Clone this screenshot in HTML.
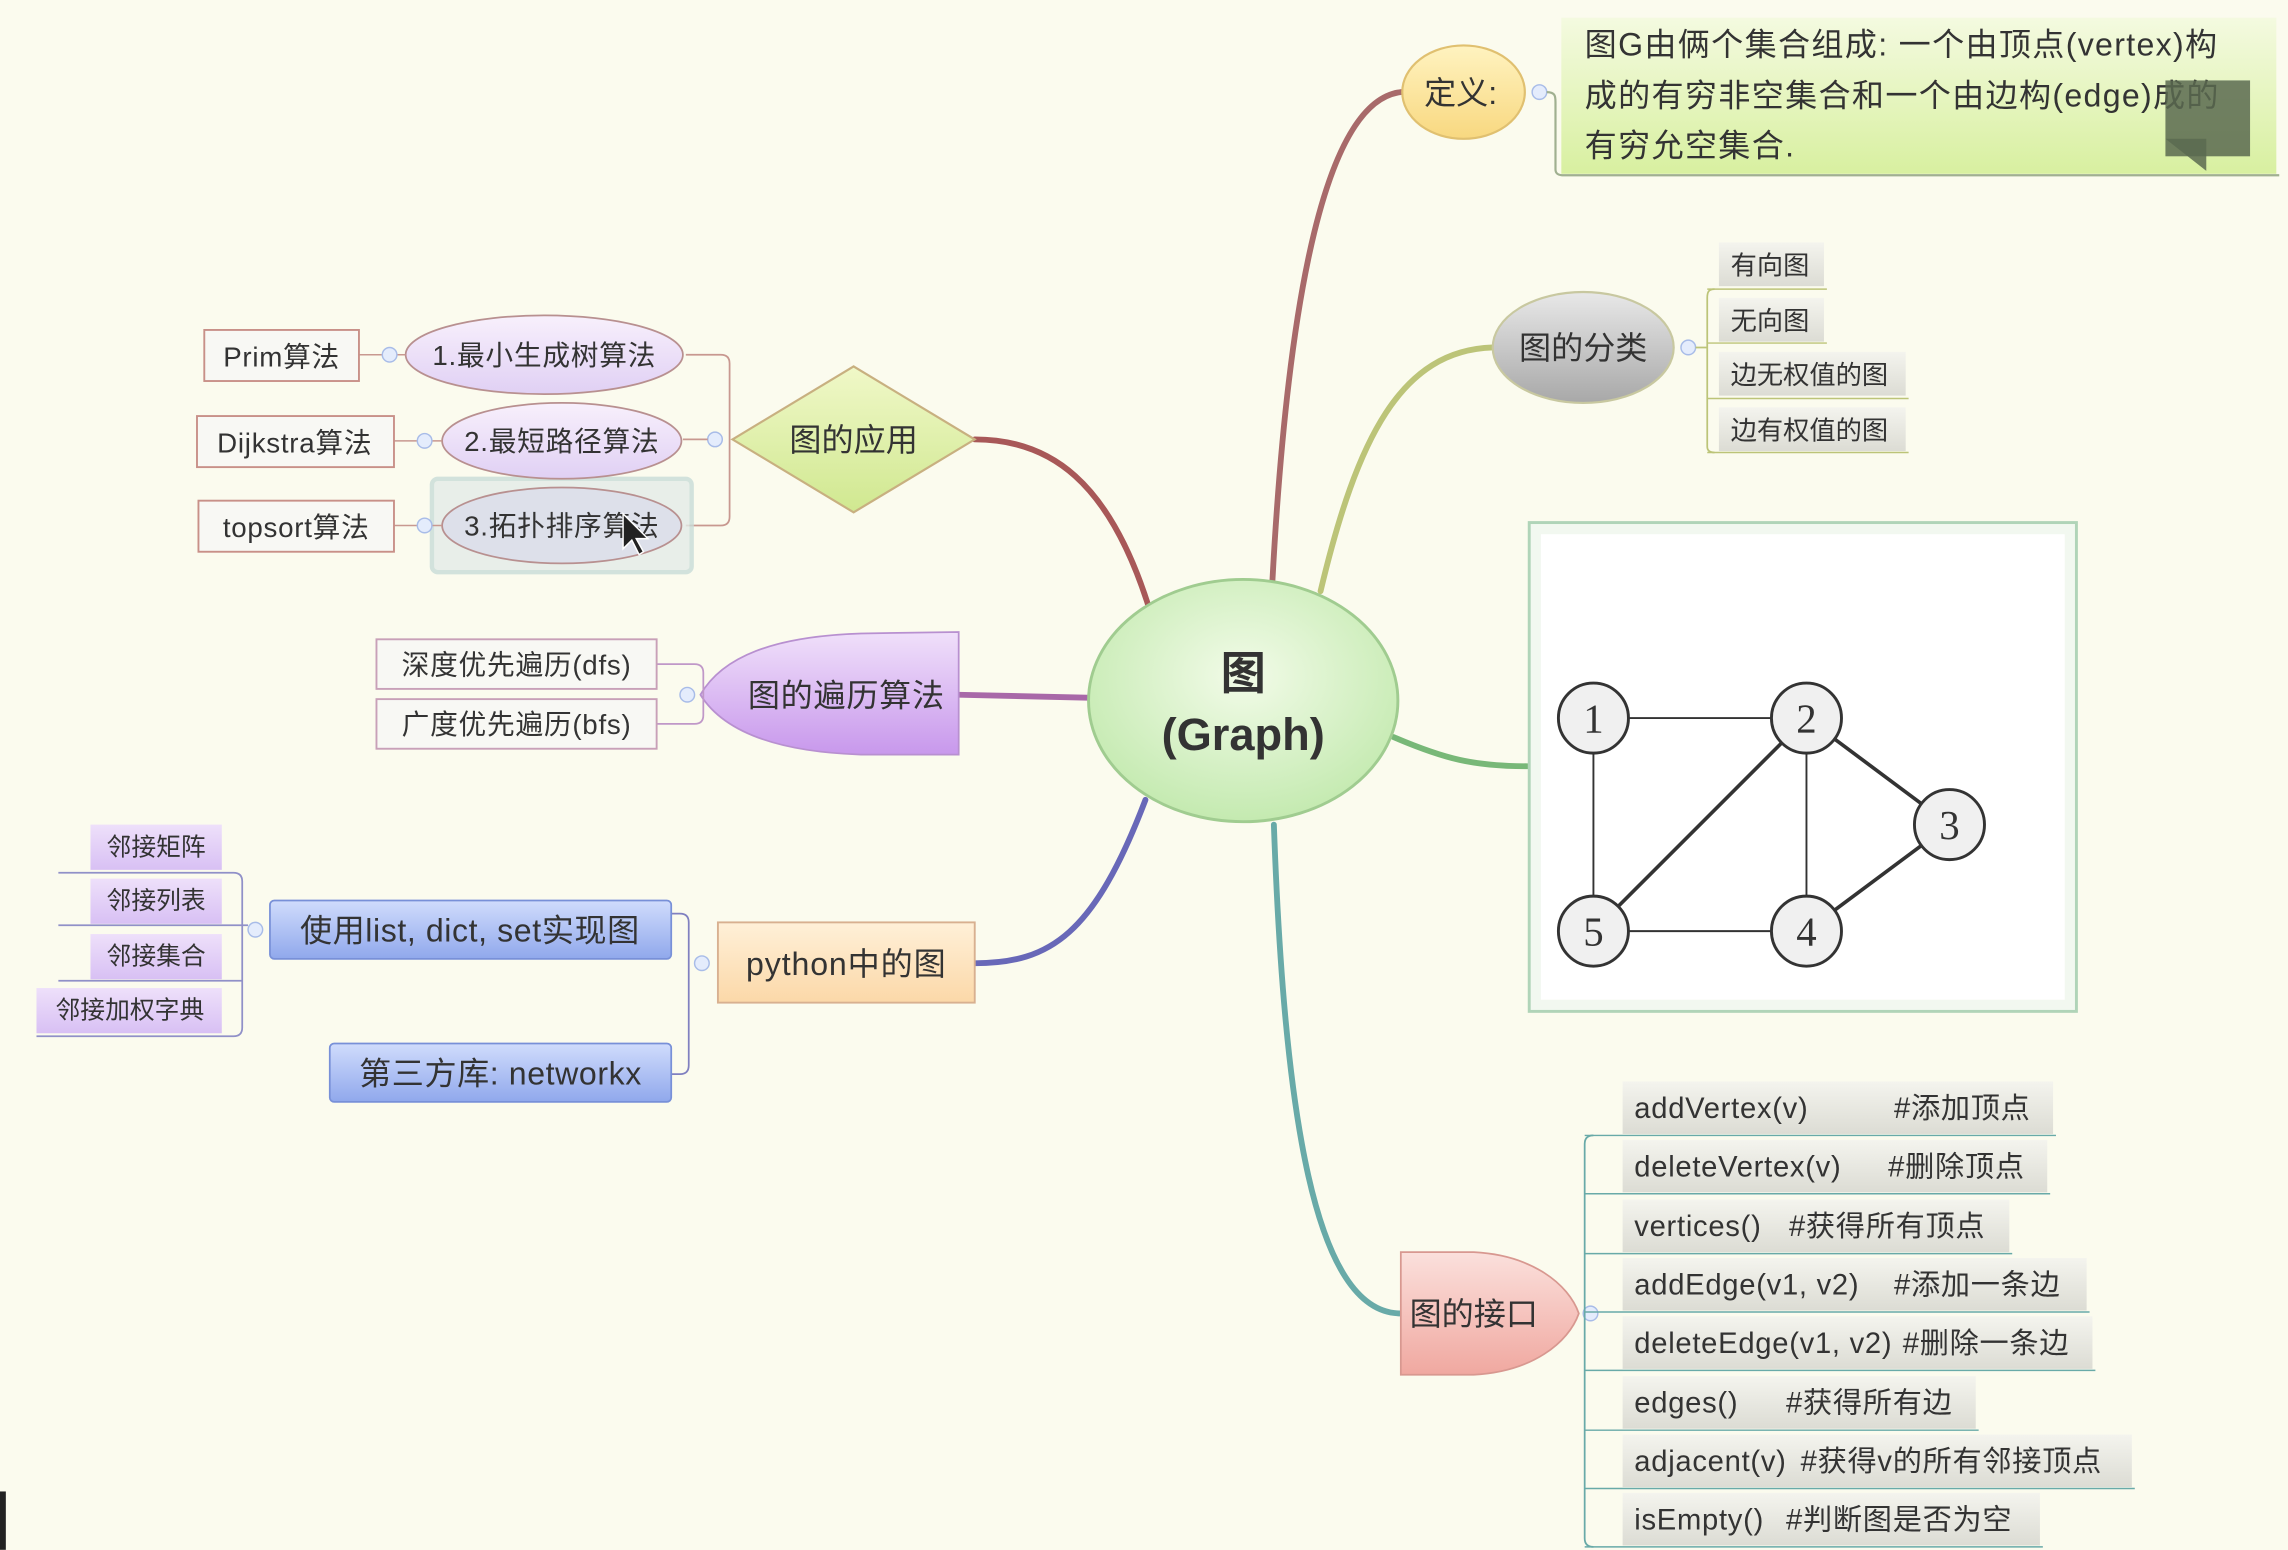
<!DOCTYPE html>
<html><head><meta charset="utf-8"><style>
html,body{margin:0;padding:0;background:#fbfbee;}
svg{display:block}
text{font-family:"Liberation Sans","Noto Sans CJK SC",sans-serif;fill:#333;}
</style></head><body>
<svg width="2288" height="1550" viewBox="0 0 1568 1062" xmlns="http://www.w3.org/2000/svg">
<defs>
<radialGradient id="gc" cx="50%" cy="40%" r="60%"><stop offset="0" stop-color="#f2fbe8"/><stop offset="1" stop-color="#c4eab0"/></radialGradient>
<linearGradient id="gy" x1="0" y1="0" x2="0" y2="1"><stop offset="0" stop-color="#fff3c0"/><stop offset="1" stop-color="#f8d880"/></linearGradient>
<linearGradient id="gdef" x1="0" y1="0" x2="0" y2="1"><stop offset="0" stop-color="#f4fae0"/><stop offset="1" stop-color="#d8f0a0"/></linearGradient>
<linearGradient id="ggray" x1="0" y1="0" x2="0" y2="1"><stop offset="0" stop-color="#e8e8e8"/><stop offset="1" stop-color="#a8a8a8"/></linearGradient>
<linearGradient id="gbox" x1="0" y1="0" x2="0" y2="1"><stop offset="0" stop-color="#f4f4ee"/><stop offset="1" stop-color="#dcdcd4"/></linearGradient>
<linearGradient id="gpink" x1="0" y1="0" x2="0" y2="1"><stop offset="0" stop-color="#fbe0dc"/><stop offset="1" stop-color="#f0a8a0"/></linearGradient>
<linearGradient id="gpur" x1="0" y1="0" x2="0" y2="1"><stop offset="0" stop-color="#f0e0fa"/><stop offset="1" stop-color="#c898ec"/></linearGradient>
<linearGradient id="glav" x1="0" y1="0" x2="0" y2="1"><stop offset="0" stop-color="#f8f0fc"/><stop offset="1" stop-color="#e0d0f4"/></linearGradient>
<linearGradient id="gblue" x1="0" y1="0" x2="0" y2="1"><stop offset="0" stop-color="#d0dcfc"/><stop offset="1" stop-color="#90a8ec"/></linearGradient>
<linearGradient id="gor" x1="0" y1="0" x2="0" y2="1"><stop offset="0" stop-color="#fff0d8"/><stop offset="1" stop-color="#fbd8a8"/></linearGradient>
<linearGradient id="gdia" x1="0" y1="0" x2="0" y2="1"><stop offset="0" stop-color="#f0f8c8"/><stop offset="1" stop-color="#d0e890"/></linearGradient>
<linearGradient id="gpb" x1="0" y1="0" x2="0" y2="1"><stop offset="0" stop-color="#eee0fa"/><stop offset="1" stop-color="#d8c0f4"/></linearGradient>
</defs>
<rect width="1568" height="1062" fill="#fbfbee"/>

<g fill="none" stroke-linecap="round">
<path d="M872,398 C880,250 900,70 960,63" stroke="#a86a6a" stroke-width="4"/>
<path d="M905,405 C930,300 960,240 1023,238" stroke="#bcc478" stroke-width="4"/>
<path d="M955,505 C990,520 1010,525 1047,525" stroke="#78b878" stroke-width="4"/>
<path d="M873,565 C880,760 900,900 960,900" stroke="#68aaa8" stroke-width="4"/>
<path d="M785,548 C750,640 720,660 668,660" stroke="#6868b8" stroke-width="4"/>
<path d="M745,478 L657,476" stroke="#a868a8" stroke-width="4"/>
<path d="M787,415 C760,330 720,301 668,301" stroke="#a85858" stroke-width="4"/>
</g>

<ellipse cx="852" cy="480" rx="106" ry="83" fill="url(#gc)" stroke="#a0cc90" stroke-width="2"/>
<text x="852" y="472" text-anchor="middle" font-size="31" font-weight="bold">图</text>
<text x="852" y="514" text-anchor="middle" font-size="31" font-weight="bold">(Graph)</text>

<ellipse cx="1003" cy="63" rx="42" ry="32" fill="url(#gy)" stroke="#e0c070" stroke-width="1.5"/>
<text x="1001" y="71" text-anchor="middle" font-size="22">定义:</text>
<circle cx="1055" cy="63" r="5" fill="#e4ecfc" stroke="#a8bce8"/>
<rect x="1070" y="12" width="490" height="107" fill="url(#gdef)"/>
<path d="M1060,63 C1066,63 1066,66 1066,70 L1066,116 C1066,119 1068,120 1072,120 L1562,120" fill="none" stroke="#a0b090" stroke-width="1.5"/>
<text font-size="22" fill="#222" letter-spacing="0.9"><tspan x="1086" y="38">图G由俩个集合组成: 一个由顶点(vertex)构</tspan><tspan x="1086" y="73">成的有穷非空集合和一个由边构(edge)成的</tspan><tspan x="1086" y="107">有穷允空集合.</tspan></text>
<rect x="1484" y="55" width="58" height="52" fill="#5a6a50" opacity="0.85"/>
<path d="M1484,95 L1512,95 L1512,117 Z" fill="#5a6a50" opacity="0.85"/>

<ellipse cx="1085" cy="238" rx="62" ry="38" fill="url(#ggray)" stroke="#c8c8a0" stroke-width="1.5"/>
<text x="1085" y="246" text-anchor="middle" font-size="22">图的分类</text>
<circle cx="1157" cy="238" r="5" fill="#e4ecfc" stroke="#a8bce8"/>
<path d="M1162,238 L1170,238 M1175,198 C1171,198 1170,200 1170,204 L1170,306 C1170,309 1172,310 1175,310" fill="none" stroke="#bcc478" stroke-width="1.2"/>
<g font-size="18">
<rect x="1178" y="166" width="72" height="30" fill="url(#gbox)"/><line x1="1170" y1="198" x2="1252" y2="198" stroke="#bcc478"/><text x="1186" y="188">有向图</text>
<rect x="1178" y="204" width="72" height="30" fill="url(#gbox)"/><line x1="1170" y1="235" x2="1252" y2="235" stroke="#bcc478"/><text x="1186" y="226">无向图</text>
<rect x="1178" y="241" width="128" height="30" fill="url(#gbox)"/><line x1="1170" y1="273" x2="1308" y2="273" stroke="#bcc478"/><text x="1186" y="263">边无权值的图</text>
<rect x="1178" y="279" width="128" height="30" fill="url(#gbox)"/><line x1="1170" y1="310" x2="1308" y2="310" stroke="#bcc478"/><text x="1186" y="301">边有权值的图</text>
</g>

<rect x="1048" y="358" width="375" height="335" fill="#f2f8f0" stroke="#b0d4b8" stroke-width="2"/>
<rect x="1056" y="366" width="359" height="319" fill="#fff"/>
<g stroke="#333" fill="none">
<line x1="1092" y1="492" x2="1238" y2="492" stroke-width="1.3"/>
<line x1="1092" y1="492" x2="1092" y2="638" stroke-width="1.3"/>
<line x1="1092" y1="638" x2="1238" y2="638" stroke-width="1.3"/>
<line x1="1238" y1="492" x2="1238" y2="638" stroke-width="1.3"/>
<line x1="1092" y1="638" x2="1238" y2="492" stroke-width="2.5"/>
<line x1="1238" y1="492" x2="1336" y2="565" stroke-width="2.5"/>
<line x1="1336" y1="565" x2="1238" y2="638" stroke-width="2.5"/>
</g>
<g fill="#f0f0f0" stroke="#333" stroke-width="2">
<circle cx="1092" cy="492" r="24"/><circle cx="1238" cy="492" r="24"/><circle cx="1336" cy="565" r="24"/><circle cx="1238" cy="638" r="24"/><circle cx="1092" cy="638" r="24"/>
</g>
<g font-size="28" text-anchor="middle">
<text x="1092" y="502" style="font-family:'Liberation Serif',serif">1</text><text x="1238" y="502" style="font-family:'Liberation Serif',serif">2</text><text x="1336" y="575" style="font-family:'Liberation Serif',serif">3</text><text x="1238" y="648" style="font-family:'Liberation Serif',serif">4</text><text x="1092" y="648" style="font-family:'Liberation Serif',serif">5</text>
</g>

<path d="M960,858 L1010,858 C1050,860 1075,880 1082,900 C1075,920 1050,940 1010,942 L960,942 Z" fill="url(#gpink)" stroke="#d89890" stroke-width="1.2"/>
<text x="1010" y="908" text-anchor="middle" font-size="22">图的接口</text>
<circle cx="1090" cy="900" r="5" fill="#e4ecfc" stroke="#a8bce8"/>
<path d="M1092,778 C1088,778 1086,780 1086,784 L1086,1054 C1086,1058 1088,1060 1092,1060" fill="none" stroke="#68aaa8" stroke-width="1.2"/>
<g font-size="20" fill="#333" letter-spacing="0.5">
<rect x="1112" y="741" width="295" height="36" fill="url(#gbox)"/><line x1="1086" y1="778" x2="1409" y2="778" stroke="#68aaa8"/><text x="1120" y="766">addVertex(v)</text><text x="1298" y="766">#添加顶点</text>
<rect x="1112" y="781" width="291" height="36" fill="url(#gbox)"/><line x1="1086" y1="818" x2="1405" y2="818" stroke="#68aaa8"/><text x="1120" y="806">deleteVertex(v)</text><text x="1294" y="806">#删除顶点</text>
<rect x="1112" y="822" width="265" height="36" fill="url(#gbox)"/><line x1="1086" y1="859" x2="1379" y2="859" stroke="#68aaa8"/><text x="1120" y="847">vertices()</text><text x="1226" y="847">#获得所有顶点</text>
<rect x="1112" y="862" width="318" height="36" fill="url(#gbox)"/><line x1="1086" y1="899" x2="1432" y2="899" stroke="#68aaa8"/><text x="1120" y="887">addEdge(v1, v2)</text><text x="1298" y="887">#添加一条边</text>
<rect x="1112" y="902" width="322" height="36" fill="url(#gbox)"/><line x1="1086" y1="939" x2="1436" y2="939" stroke="#68aaa8"/><text x="1120" y="927">deleteEdge(v1, v2)</text><text x="1304" y="927">#删除一条边</text>
<rect x="1112" y="943" width="242" height="36" fill="url(#gbox)"/><line x1="1086" y1="980" x2="1356" y2="980" stroke="#68aaa8"/><text x="1120" y="968">edges()</text><text x="1224" y="968">#获得所有边</text>
<rect x="1112" y="983" width="349" height="36" fill="url(#gbox)"/><line x1="1086" y1="1020" x2="1463" y2="1020" stroke="#68aaa8"/><text x="1120" y="1008">adjacent(v)</text><text x="1234" y="1008">#获得v的所有邻接顶点</text>
<rect x="1112" y="1023" width="286" height="36" fill="url(#gbox)"/><line x1="1086" y1="1060" x2="1400" y2="1060" stroke="#68aaa8"/><text x="1120" y="1048">isEmpty()</text><text x="1224" y="1048">#判断图是否为空</text>
</g>

<polygon points="502,301 585,251 668,301 585,351" fill="url(#gdia)" stroke="#c8b080" stroke-width="1.5"/>
<text x="585" y="309" text-anchor="middle" font-size="22">图的应用</text>
<circle cx="490" cy="301" r="5" fill="#e4ecfc" stroke="#a8bce8"/>
<path d="M470,243 L494,243 C498,243 500,245 500,249 L500,354 C500,358 498,360 494,360 L470,360 M468,301 L485,301" fill="none" stroke="#c89890" stroke-width="1.2"/>
<rect x="296" y="328" width="178" height="64" rx="4" fill="#e4ece8" stroke="#c8dcd8" stroke-width="3" opacity="0.8"/>
<g font-size="19" letter-spacing="0.5">
<ellipse cx="373" cy="243" rx="95" ry="27" fill="url(#glav)" stroke="#b89090" stroke-width="1.2"/><text x="373" y="250" text-anchor="middle">1.最小生成树算法</text>
<ellipse cx="385" cy="302" rx="82" ry="26" fill="url(#glav)" stroke="#b89090" stroke-width="1.2"/><text x="385" y="309" text-anchor="middle">2.最短路径算法</text>
<ellipse cx="385" cy="360" rx="82" ry="26" fill="#dde0ea" stroke="#b89090" stroke-width="1.2"/><text x="385" y="367" text-anchor="middle">3.拓扑排序算法</text>
<line x1="246" y1="243" x2="278" y2="243" stroke="#c89890"/><circle cx="267" cy="243" r="5" fill="#e4ecfc" stroke="#a8bce8"/>
<line x1="270" y1="302" x2="303" y2="302" stroke="#c89890"/><circle cx="291" cy="302" r="5" fill="#e4ecfc" stroke="#a8bce8"/>
<line x1="270" y1="360" x2="303" y2="360" stroke="#c89890"/><circle cx="291" cy="360" r="5" fill="#e4ecfc" stroke="#a8bce8"/>
<rect x="140" y="226" width="106" height="35" fill="#f8f8f4" stroke="#c89088" stroke-width="1.3"/><text x="193" y="251" text-anchor="middle">Prim算法</text>
<rect x="135" y="285" width="135" height="35" fill="#f8f8f4" stroke="#c89088" stroke-width="1.3"/><text x="202" y="310" text-anchor="middle">Dijkstra算法</text>
<rect x="136" y="343" width="134" height="35" fill="#f8f8f4" stroke="#c89088" stroke-width="1.3"/><text x="203" y="368" text-anchor="middle">topsort算法</text>
</g>
<path d="M427,352 L427,376 L433,370 L438,380 L441,378 L436,369 L444,369 Z" fill="#222" stroke="#fff" stroke-width="1"/>

<path d="M657,433 L657,517 L590,517 C530,515 495,500 480,476 C495,450 530,436 590,434 Z" fill="url(#gpur)" stroke="#b890d0" stroke-width="1.2"/>
<text x="580" y="484" text-anchor="middle" font-size="22" letter-spacing="0.5">图的遍历算法</text>
<circle cx="471" cy="476" r="5" fill="#e4ecfc" stroke="#a8bce8"/>
<path d="M450,455 L476,455 C480,455 482,457 482,461 L482,490 C482,494 480,496 476,496 L450,496" fill="none" stroke="#c098c8" stroke-width="1.2"/>
<g font-size="19" letter-spacing="0.5">
<rect x="258" y="438" width="192" height="34" fill="#f8f8f4" stroke="#c8a0b8" stroke-width="1.3"/><text x="354" y="462" text-anchor="middle">深度优先遍历(dfs)</text>
<rect x="258" y="479" width="192" height="34" fill="#f8f8f4" stroke="#c8a0b8" stroke-width="1.3"/><text x="354" y="503" text-anchor="middle">广度优先遍历(bfs)</text>
</g>

<rect x="492" y="632" width="176" height="55" fill="url(#gor)" stroke="#d8b090" stroke-width="1.3"/>
<text x="580" y="668" text-anchor="middle" font-size="22" letter-spacing="0.6">python中的图</text>
<circle cx="481" cy="660" r="5" fill="#e4ecfc" stroke="#a8bce8"/>
<path d="M460,626 L466,626 C470,626 472,628 472,632 L472,730 C472,734 470,736 466,736 L460,736" fill="none" stroke="#8080c0" stroke-width="1.2"/>
<rect x="185" y="617" width="275" height="40" rx="3" fill="url(#gblue)" stroke="#7890d8" stroke-width="1.2"/>
<text x="322" y="645" text-anchor="middle" font-size="22" fill="#222" letter-spacing="0.4">使用list, dict, set实现图</text>
<rect x="226" y="715" width="234" height="40" rx="3" fill="url(#gblue)" stroke="#7890d8" stroke-width="1.2"/>
<text x="343" y="743" text-anchor="middle" font-size="22" fill="#222" letter-spacing="0.4">第三方库: networkx</text>
<circle cx="175" cy="637" r="5" fill="#e4ecfc" stroke="#a8bce8"/>
<path d="M40,598 L160,598 C164,598 166,600 166,604 L166,704 C166,708 164,710 160,710 L25,710 M40,634 L170,634 M40,672 L166,672" fill="none" stroke="#9090c8" stroke-width="1.2"/>
<g font-size="17">
<rect x="62" y="565" width="90" height="31" fill="url(#gpb)"/><text x="107" y="586" text-anchor="middle">邻接矩阵</text>
<rect x="62" y="602" width="90" height="31" fill="url(#gpb)"/><text x="107" y="623" text-anchor="middle">邻接列表</text>
<rect x="62" y="640" width="90" height="31" fill="url(#gpb)"/><text x="107" y="661" text-anchor="middle">邻接集合</text>
<rect x="25" y="677" width="127" height="31" fill="url(#gpb)"/><text x="89" y="698" text-anchor="middle">邻接加权字典</text>
</g>
<rect x="0" y="1022" width="4" height="40" fill="#222"/>
</svg>
</body></html>
